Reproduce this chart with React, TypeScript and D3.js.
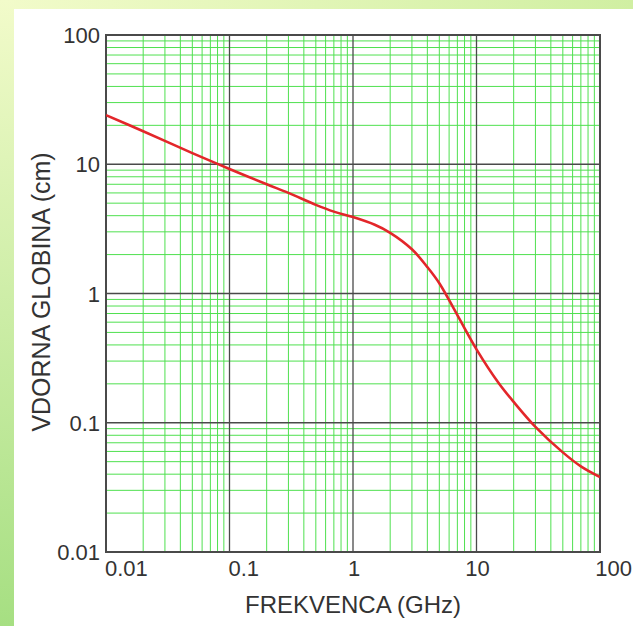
import React from "react";
import * as d3 from "d3";

const freqGHz = [0.01, 0.02, 0.05, 0.1, 0.2, 0.3, 0.5, 0.7, 1, 1.5, 2, 3, 4, 5, 7, 10, 15, 20, 30, 50, 70, 100];
const depthCm = [24, 18.0, 12.2, 9.2, 7.0, 6.0, 4.85, 4.3, 3.9, 3.4, 2.95, 2.2, 1.6, 1.2, 0.68, 0.37, 0.205, 0.145, 0.093, 0.059, 0.046, 0.038];
const xTickLabels = ["0.01", "0.1", "1", "10", "100"];
const yTickLabels = ["0.01", "0.1", "1", "10", "100"];
const xTitle = "FREKVENCA (GHz)";
const yTitle = "VDORNA GLOBINA (cm)";

const W = 633;
const H = 626;
const L = 106, R = 600, T = 35, B = 552;

export default function App() {
  const x = d3.scaleLog().domain([0.01, 100]).range([L, R]);
  const y = d3.scaleLog().domain([0.01, 100]).range([B, T]);
  const isMajor = (v: number) => Math.abs(Math.log10(v) - Math.round(Math.log10(v))) < 1e-9;
  const xt = x.ticks();
  const yt = y.ticks();
  const pts = freqGHz.map((f, i) => [f, depthCm[i]] as [number, number]);
  const line = d3
    .line<[number, number]>()
    .x((d) => x(d[0]))
    .y((d) => y(d[1]))
    .curve(d3.curveCatmullRom.alpha(0.5));
  const font = "Liberation Sans, Arial, sans-serif";
  const txt = "#333";
  return (
    <div style={{ position: "absolute", left: 0, top: 0 }}>
      <svg width={W} height={H} style={{ display: "block" }}>
        <defs>
          <linearGradient id="topG" x1="0" y1="0" x2="1" y2="0">
            <stop offset="0" stopColor="#f2fbca" />
            <stop offset="1" stopColor="#d0efa2" />
          </linearGradient>
          <linearGradient id="leftG" x1="0" y1="0" x2="0" y2="1">
            <stop offset="0" stopColor="#f2fbca" />
            <stop offset="1" stopColor="#a6df82" />
          </linearGradient>
          <clipPath id="plotClip">
            <rect x={L} y={T} width={R - L} height={B - T} />
          </clipPath>
        </defs>
        <rect x={0} y={0} width={W} height={H} fill="#ffffff" />
        <rect x={0} y={0} width={W} height={9} fill="url(#topG)" />
        <rect x={0} y={0} width={14} height={H} fill="url(#leftG)" />

        {/* minor grid */}
        {xt.filter((v) => !isMajor(v)).map((v, i) => (
          <line key={"xm" + i} x1={x(v)} x2={x(v)} y1={T} y2={B} stroke="#4fe04f" strokeWidth={1} />
        ))}
        {yt.filter((v) => !isMajor(v)).map((v, i) => (
          <line key={"ym" + i} x1={L} x2={R} y1={y(v)} y2={y(v)} stroke="#4fe04f" strokeWidth={1} />
        ))}
        {/* major grid */}
        {xt.filter((v) => isMajor(v)).map((v, i) => (
          <line key={"xM" + i} x1={x(v)} x2={x(v)} y1={T} y2={B} stroke="#4a4a4a" strokeWidth={1.3} />
        ))}
        {yt.filter((v) => isMajor(v)).map((v, i) => (
          <line key={"yM" + i} x1={L} x2={R} y1={y(v)} y2={y(v)} stroke="#4a4a4a" strokeWidth={1.3} />
        ))}
        <rect x={L} y={T} width={R - L} height={B - T} fill="none" stroke="#4a4a4a" strokeWidth={2} />

        <path d={line(pts) || ""} fill="none" stroke="#e3262a" strokeWidth={2.6} clipPath="url(#plotClip)" />

        {/* y tick labels */}
        {yTickLabels.map((s) => (
          <text key={"yl" + s} x={L - 6} y={y(+s) + 8} textAnchor="end" fontFamily={font} fontSize={22} fill={txt}>
            {s}
          </text>
        ))}
        {/* x tick labels */}
        {xTickLabels.map((s, i) => {
          const v = +s;
          const last = i === xTickLabels.length - 1;
          const anchor = last ? "end" : v < 1 ? "start" : "middle";
          const px = last ? W - 1 : x(v) + (anchor === "start" ? -1 : 1);
          return (
            <text key={"xl" + s} x={px} y={576} textAnchor={anchor} fontFamily={font} fontSize={22} fill={txt}>
              {s}
            </text>
          );
        })}
        <text x={(L + R) / 2} y={613} textAnchor="middle" fontFamily={font} fontSize={24} fill={txt}>
          {xTitle}
        </text>
        <text transform={`translate(41,292) rotate(-90)`} textAnchor="middle" dominantBaseline="central" fontFamily={font} fontSize={25} fill={txt}>
          {yTitle}
        </text>
      </svg>
    </div>
  );
}
